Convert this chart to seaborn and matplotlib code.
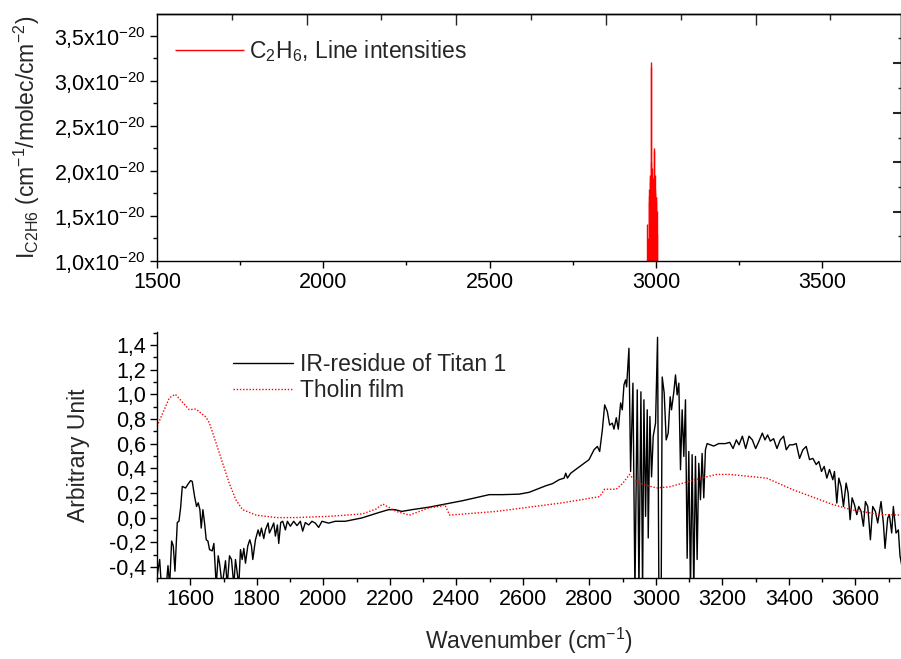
import matplotlib
matplotlib.use("Agg")
import matplotlib.pyplot as plt
from matplotlib.ticker import MultipleLocator, FuncFormatter
import numpy as np
import pandas as pd
import seaborn as sns

# --- C2H6 line list (top panel) ---
c2h6_wn = [2973, 2976, 2978, 2979, 2980, 2981, 2982, 2983, 2984, 2985, 2986, 2987,
           2988, 2989, 2990, 2991, 2992, 2993, 2994, 2995, 2996, 2997, 2998, 2999,
           3000, 3001, 3002, 3003]
c2h6_int = [1.41, 1.25, 1.72, 1.80, 1.65, 1.94, 1.88, 1.95, 2.10, 3.21, 3.15, 1.96,
            2.03, 1.85, 1.92, 1.78, 1.60, 1.86, 2.26, 2.22, 1.95, 1.80, 1.75, 1.71,
            1.65, 1.71, 1.55, 1.30]

# --- Tholin film (red dotted) ---
tholin_wn = [1500, 1537, 1555, 1597, 1617, 1647, 1657, 1677, 1697, 1717, 1737, 1757,
             1798, 1858, 1918, 2018, 2118, 2159, 2179, 2199, 2219, 2259, 2319, 2350,
             2365, 2380, 2520, 2720, 2831, 2846, 2881, 2901, 2921, 2936, 2961, 3002,
             3042, 3122, 3182, 3222, 3333, 3413, 3533, 3593, 3674, 3740]
tholin_val = [0.74, 0.97, 1.00, 0.875, 0.88, 0.815, 0.77, 0.61, 0.445, 0.28, 0.145, 0.065,
              0.02, 0.0, 0.0, 0.01, 0.03, 0.07, 0.11, 0.08, 0.05, 0.02, 0.08, 0.09,
              0.105, 0.02, 0.05, 0.12, 0.17, 0.23, 0.23, 0.28, 0.35, 0.30, 0.27, 0.24,
              0.25, 0.31, 0.35, 0.35, 0.32, 0.225, 0.105, 0.06, 0.025, 0.02]

# --- IR-residue of Titan 1 (black) ---
titan_wn = [1496, 1508, 1513, 1528, 1533, 1538, 1544, 1549, 1554, 1561, 1566, 1571,
            1576, 1586, 1593, 1601, 1606, 1613, 1619, 1624, 1629, 1633, 1638, 1643,
            1648, 1653, 1658, 1666, 1671, 1678, 1684, 1688, 1696, 1706, 1711, 1718,
            1724, 1731, 1736, 1746, 1751, 1756, 1761, 1766, 1773, 1779, 1784, 1788,
            1796, 1804, 1809, 1814, 1821, 1826, 1834, 1838, 1844, 1851, 1856, 1862,
            1866, 1872, 1878, 1886, 1892, 1901, 1911, 1921, 1931, 1938, 1946, 1956,
            1966, 1976, 1986, 1996, 2016, 2036, 2066, 2116, 2166, 2196, 2216, 2236,
            2266, 2319, 2419, 2499, 2539, 2589, 2619, 2639, 2669, 2689, 2709, 2724,
            2729, 2734, 2744, 2759, 2779, 2799, 2814, 2824, 2831, 2839, 2846, 2854,
            2861, 2869, 2874, 2881, 2887, 2894, 2899, 2904, 2909, 2912, 2919, 2924,
            2931, 2937, 2944, 2949, 2955, 2960, 2964, 2969, 2974, 2977, 2982, 2987,
            2992, 2999, 3005, 3009, 3016, 3019, 3025, 3031, 3037, 3043, 3047, 3054,
            3059, 3064, 3069, 3074, 3079, 3084, 3089, 3094, 3099, 3104, 3109, 3114,
            3119, 3124, 3129, 3134, 3139, 3144, 3149, 3154, 3164, 3174, 3189, 3209,
            3222, 3232, 3242, 3250, 3260, 3270, 3280, 3290, 3300, 3310, 3320, 3328,
            3336, 3344, 3354, 3364, 3374, 3384, 3392, 3402, 3412, 3422, 3432, 3442,
            3452, 3462, 3472, 3482, 3490, 3498, 3506, 3514, 3522, 3532, 3537, 3544,
            3550, 3557, 3564, 3572, 3578, 3584, 3590, 3597, 3604, 3610, 3617, 3624,
            3630, 3637, 3645, 3652, 3660, 3667, 3677, 3684, 3689, 3697, 3702, 3709,
            3714, 3722, 3729, 3734, 3740]
titan_val = [-0.55, -0.34, -0.55, -0.55, -0.39, -0.55, -0.19, -0.23, -0.435, -0.04, -0.03, 0.08,
             0.253, 0.24, 0.27, 0.30, 0.293, 0.17, 0.09, 0.12, 0.064, -0.085, 0.064, -0.044,
             -0.18, -0.19, -0.26, -0.27, -0.21, -0.55, -0.31, -0.37, -0.55, -0.35, -0.55, -0.31,
             -0.34, -0.55, -0.34, -0.55, -0.26, -0.34, -0.25, -0.37, -0.23, -0.18, -0.23, -0.34,
             -0.18, -0.10, -0.15, -0.085, -0.17, -0.10, -0.044, -0.125, -0.09, -0.044, -0.15, -0.06,
             -0.21, -0.04, -0.03, -0.10, -0.03, -0.07, -0.03, -0.065, -0.03, -0.11, -0.04, -0.06,
             -0.03, -0.045, -0.08, -0.03, -0.045, -0.03, -0.03, -0.003, 0.04, 0.064, 0.064, 0.05,
             0.064, 0.085, 0.137, 0.186, 0.186, 0.19, 0.205, 0.226, 0.258, 0.275, 0.307, 0.32,
             0.36, 0.32, 0.36, 0.39, 0.43, 0.47, 0.55, 0.577, 0.536, 0.71, 0.914, 0.86,
             0.75, 0.766, 0.717, 0.81, 0.717, 0.93, 0.874, 1.076, 1.117, 1.06, 1.373, 0.374,
             1.09, -0.60, 1.036, -0.60, 1.02, -0.60, 0.955, 0.01, 0.874, -0.165, 0.82, 0.33,
             0.66, 0.766, 1.462, -0.60, -0.60, 1.14, 1.01, 0.63, 0.685, 0.98, 0.874, 1.02,
             1.157, 0.995, 1.09, 0.388, 0.874, 0.496, 0.955, -0.33, 0.536, -0.60, 0.51, -0.60,
             0.496, -0.34, 0.44, 0.145, 0.52, 0.16, 0.55, 0.60, 0.59, 0.58, 0.60, 0.60,
             0.61, 0.56, 0.63, 0.59, 0.66, 0.56, 0.66, 0.63, 0.56, 0.62, 0.685, 0.63,
             0.67, 0.62, 0.64, 0.56, 0.63, 0.66, 0.55, 0.59, 0.59, 0.60, 0.48, 0.55,
             0.577, 0.47, 0.48, 0.43, 0.455, 0.374, 0.415, 0.32, 0.39, 0.307, 0.374, 0.118,
             0.32, 0.25, 0.09, 0.28, 0.20, -0.017, 0.16, 0.105, 0.024, 0.09, 0.05, -0.07,
             0.13, 0.09, -0.18, 0.09, 0.05, -0.044, 0.13, -0.044, -0.25, -0.004, 0.024, -0.125,
             0.09, -0.125, -0.10, -0.31, -0.40]

top_yticks = [1.0e-20, 1.5e-20, 2.0e-20, 2.5e-20, 3.0e-20, 3.5e-20]

sns.set_theme(style="ticks")
plt.rcParams["font.family"] = ["Liberation Sans", "DejaVu Sans"]
plt.rcParams["mathtext.default"] = "regular"
plt.rcParams["axes.linewidth"] = 1.0

fig = plt.figure(figsize=(9.01, 6.59), dpi=100)
W, H = 901, 659
ax1 = fig.add_axes([157 / W, 1 - 261 / H, 1 - 157 / W, 247 / H])
ax2 = fig.add_axes([157 / W, 1 - 578 / H, 1 - 157 / W, 246 / H])

# top panel: stick spectrum
ax1.vlines(c2h6_wn, 0, np.array(c2h6_int) * 1e-20, color="red", lw=1.0,
           label="C$_2$H$_6$, Line intensities")
ax1.set_xlim(1500, 3737)
ax1.set_ylim(1.0e-20, 3.744e-20)
ax1.xaxis.set_major_locator(MultipleLocator(500))
ax1.xaxis.set_minor_locator(MultipleLocator(250))
ax1.set_yticks(top_yticks)
ax1.yaxis.set_minor_locator(MultipleLocator(0.25e-20))
ax1.yaxis.set_major_formatter(FuncFormatter(
    lambda v, p: f"{v / 1e-20:.1f}".replace(".", ",") + "x10$^{\u002d20}$"))
ax1.tick_params(which="major", direction="out", length=5, width=1, labelsize=15.5,
                colors="black", pad=3)
ax1.tick_params(which="minor", direction="out", length=3, width=1, colors="black")
ax1.set_ylabel("I$_{C2H6}$ (cm$^{-1}$/molec/cm$^{-2}$)", fontsize=16.5)
ax1.yaxis.set_label_coords(-0.155, 0.5)
for s in ax1.spines.values():
    s.set_color("black")

sec_x = ax1.secondary_xaxis("top")
sec_x.set_xticks([1950, 2400, 2850, 3300])
sec_x.set_xticks([1725, 2175, 2625, 3075, 3525], minor=True)
sec_x.tick_params(which="major", direction="in", length=8, width=1, labeltop=False)
sec_x.tick_params(which="minor", direction="in", length=4, width=1)
sec_x.spines["top"].set_color("black")
sec_y = ax1.secondary_yaxis("right")
sec_y.set_yticks([1.544e-20, 2.1e-20, 2.644e-20, 3.2e-20])
sec_y.set_yticks([1.28e-20, 1.82e-20, 2.37e-20, 2.92e-20, 3.48e-20], minor=True)
sec_y.tick_params(which="major", direction="in", length=6, width=1.5, labelright=False)
sec_y.tick_params(which="minor", direction="in", length=2, width=1)

ax1.legend(loc="upper left", bbox_to_anchor=(-0.003, 0.985), frameon=False,
           fontsize=16.5, handlelength=3.0, handletextpad=0.2)

# bottom panel
df_t = pd.DataFrame({"wn": titan_wn, "val": titan_val})
df_h = pd.DataFrame({"wn": tholin_wn, "val": tholin_val})
sns.lineplot(data=df_t, x="wn", y="val", ax=ax2, color="black", lw=1.0,
             label="IR-residue of Titan 1", sort=False)
sns.lineplot(data=df_h, x="wn", y="val", ax=ax2, color="red", lw=1.0,
             linestyle=(0, (1, 1.3)), label="Tholin film", sort=False)
ax2.set_xlim(1500, 3737)
ax2.set_ylim(-0.49, 1.505)
ax2.xaxis.set_major_locator(MultipleLocator(200))
ax2.xaxis.set_minor_locator(MultipleLocator(100))
ax2.yaxis.set_major_locator(MultipleLocator(0.2))
ax2.yaxis.set_minor_locator(MultipleLocator(0.1))
ax2.yaxis.set_major_formatter(FuncFormatter(lambda v, p: f"{v:.1f}".replace(".", ",").replace("-0,0", "0,0")))
ax2.tick_params(which="major", direction="out", length=5, width=1, labelsize=15.5,
                colors="black", pad=3)
ax2.tick_params(which="minor", direction="out", length=3, width=1, colors="black")
ax2.spines["top"].set_visible(False)
ax2.spines["right"].set_visible(False)
for s in ("left", "bottom"):
    ax2.spines[s].set_color("black")
ax2.set_xlabel("Wavenumber (cm$^{-1}$)", fontsize=16.5, labelpad=11)
ax2.set_ylabel("Arbitrary Unit", fontsize=16.5)
ax2.yaxis.set_label_coords(-0.09, 0.5)
ax2.legend(loc="upper left", bbox_to_anchor=(0.075, 1.0), frameon=False,
           fontsize=16.5, handlelength=2.6, handletextpad=0.3, labelspacing=0.15)

fig.savefig("out.png", dpi=100)
